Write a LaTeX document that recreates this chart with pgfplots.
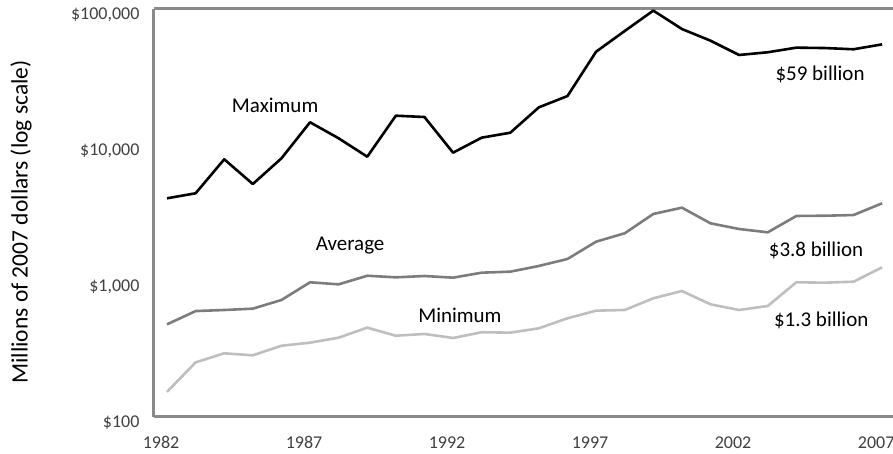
\documentclass[border=0pt]{standalone}
\usepackage{fontspec}
\setmainfont{Carlito}
\usepackage{pgfplots}
\pgfplotsset{compat=1.18}
\definecolor{axisgray}{HTML}{8A8A8A}
\definecolor{avggray}{HTML}{7C7C7C}
\definecolor{mingray}{HTML}{BEBEBE}
\begin{document}
\begin{tikzpicture}
\begin{axis}[
  scale only axis, width=739pt, height=408pt,
  ymode=log, ymin=100, ymax=100000,
  xmin=1981.545, xmax=2007.38,
  axis x line=box, axis y line*=left,
  separate axis lines,
  axis line style={draw=axisgray, line width=3pt},
  tick style={draw=none}, major tick length=0pt, minor tick length=0pt,
  yminorticks=false,
  xtick={1982,1987,1992,1997,2002,2007},
  xticklabels={1982,1987,1992,1997,2002,2007},
  ytick={100,1000,10000,100000},
  yticklabels={{\$100},{\$1,000},{\$10,000},{\$100,000}},
  tick label style={font=\fontsize{18}{18}\selectfont, text=black!75},
  yticklabel style={xshift=-11pt, yshift=-6pt},
  xticklabel style={xshift=-6pt, yshift=-16pt},
  ylabel={Millions of 2007 dollars (log scale)},
  ylabel style={at={(axis description cs:-0.1800,0.478)}, anchor=center, font=\fontsize{23.5}{23.5}\selectfont},
  clip=false,
]
\addplot[black, line width=2.6pt, line join=round] coordinates {
(1982,4055) (1983,4414) (1984,7850) (1985,5165) (1986,7980) (1987,14690)
(1988,11200) (1989,8200) (1990,16420) (1991,16060) (1992,8780) (1993,11320)
(1994,12310) (1995,18920) (1996,22910) (1997,48540) (1998,68870) (1999,97300)
(2000,71270) (2001,58480) (2002,45900) (2003,48060) (2004,51970) (2005,51630)
(2006,50560) (2007,54960)};
\addplot[avggray, line width=2.6pt, line join=round] coordinates {
(1982,480) (1983,601) (1984,612) (1985,626) (1986,725) (1987,978)
(1988,945) (1989,1093) (1990,1064) (1991,1088) (1992,1058) (1993,1151)
(1994,1171) (1995,1290) (1996,1452) (1997,1946) (1998,2243) (1999,3110)
(2000,3461) (2001,2655) (2002,2411) (2003,2280) (2004,3006) (2005,3020)
(2006,3055) (2007,3727)};
\addplot[mingray, line width=2.6pt, line join=round] coordinates {
(1982,153) (1983,252) (1984,294) (1985,284) (1986,334) (1987,352)
(1988,383) (1989,454) (1990,396) (1991,408) (1992,381) (1993,420)
(1994,417) (1995,449) (1996,532) (1997,605) (1998,612) (1999,746)
(2000,844) (2001,674) (2002,612) (2003,655) (2004,978) (2005,972)
(2006,988) (2007,1261)};
\node[font=\fontsize{21}{21}\selectfont] at (axis cs:1985.78,19680) {Maximum};
\node[font=\fontsize{21}{21}\selectfont] at (axis cs:2004.83,33270) {\$59 billion};
\node[font=\fontsize{21}{21}\selectfont] at (axis cs:1988.40,1808) {Average};
\node[font=\fontsize{21}{21}\selectfont] at (axis cs:1992.24,562) {Minimum};
\node[font=\fontsize{21}{21}\selectfont] at (axis cs:2004.69,1690) {\$3.8 billion};
\node[font=\fontsize{21}{21}\selectfont] at (axis cs:2004.87,516) {\$1.3 billion};
\end{axis}
\pgfresetboundingbox
\path (-154pt,-37pt) rectangle (739pt,417pt);
\end{tikzpicture}
\end{document}
